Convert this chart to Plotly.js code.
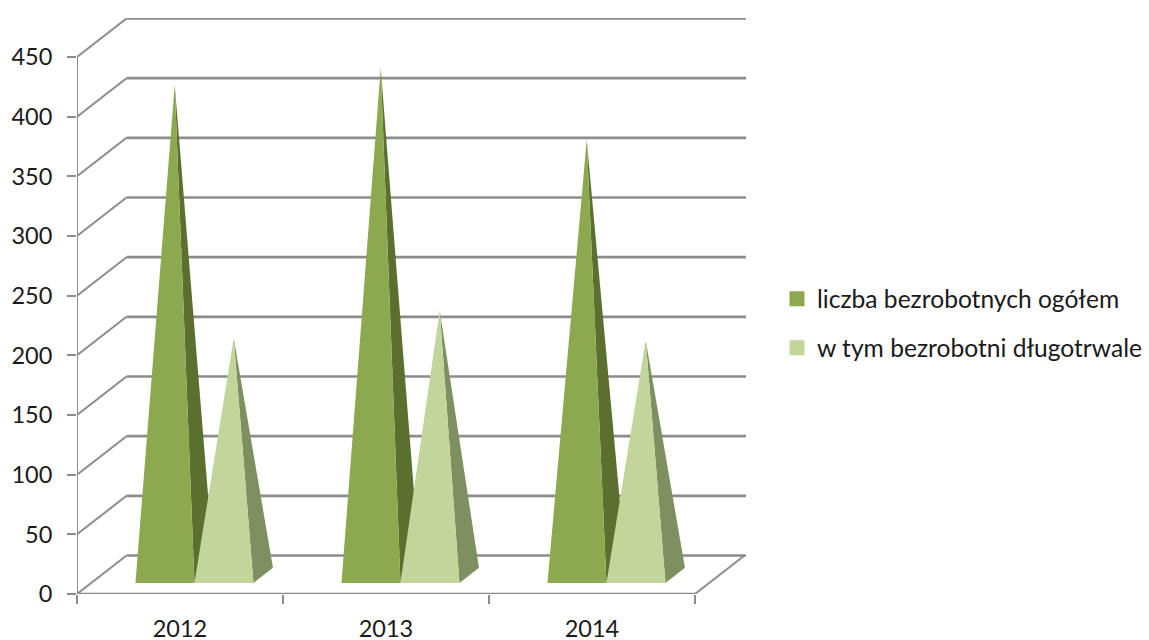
<!DOCTYPE html>
<html><head><meta charset="utf-8">
<script src="https://cdn.plot.ly/plotly-3.0.1.min.js"></script>
<style>html,body{margin:0;padding:0;background:#fff}</style></head>
<body><div id="chart" style="width:1149px;height:640px"></div>
<script>
const categories = ['2012','2013','2014'];
const seriesNames = ['liczba bezrobotnych ogółem','w tym bezrobotni długotrwale'];
const totalUnemployed = [411,425,365];
const longTermUnemployed = [199,222,197];
const yTicks = [0,50,100,150,200,250,300,350,400,450];

const FONT = 'Lato, "Open Sans", sans-serif';
const FS = 23.5;
const LEGEND_FS = 24.6;
const TEXT = '#1a1a1a';
const GRID = '#8c8c8c';
const frontColors = ['#8DA950','#C2D69B'];
const sideColors = ['#5B6F2F','#7E9060'];

const W = 1149;
const pxX = 206, pxY = 537/450;
const L = 77, R = 746, T = 18, B = 594;
const xMax = (R-L)/pxX, yMax = (B-T)/pxY;
const wallDx = 49.5/pxX, wallDy = 38.5/pxY;
const depthFront = 0.286, depthBack = 0.68, depthMid = 0.483;
const gapLeft = 44.3/pxX, baseW = 59/pxX;
const nCat = categories.length;
const xDomain = [L/W, R/W];

const traces = [];
// walls + floor
const hx=[],hy=[],dx=[],dy=[];
yTicks.forEach(v=>{
  hx.push(wallDx,xMax,null); hy.push(v+wallDy,v+wallDy,null);
  dx.push(0,wallDx,null); dy.push(v,v+wallDy,null);
});
hx.push(0,nCat,null); hy.push(0,0,null);
dx.push(nCat,wallDx+nCat,null); dy.push(0,wallDy,null);
dx.push(0,0,null); dy.push(0,yTicks[yTicks.length-1],null);
const base={type:'scatter',mode:'lines',showlegend:false,hoverinfo:'skip',cliponaxis:false};
traces.push({...base,x:dx,y:dy,line:{color:GRID,width:2}});
traces.push({...base,x:hx,y:hy,line:{color:GRID,width:2.6}});

function pt(x,d){return [x+d*wallDx,d*wallDy];}
[totalUnemployed,longTermUnemployed].forEach((vals,s)=>{
  vals.forEach((v,i)=>{
    const x0=i+gapLeft+s*baseW, x1=x0+baseW, cx=(x0+x1)/2;
    const a=pt(x0,depthFront), b=pt(x1,depthFront), c=pt(x1,depthBack), m=pt(cx,depthMid);
    traces.push({...base,x:[b[0],c[0],m[0],b[0]],y:[b[1],c[1],m[1]+v,b[1]],fill:'toself',
      fillcolor:sideColors[s],line:{width:0,color:sideColors[s]}});
    traces.push({...base,x:[a[0],b[0],m[0],a[0]],y:[a[1],b[1],m[1]+v,a[1]],fill:'toself',
      fillcolor:frontColors[s],line:{width:0,color:frontColors[s]}});
  });
  traces.push({type:'scatter',mode:'markers',xaxis:'x2',x:[null],y:[null],name:seriesNames[s],legendgroup:'s'+s,
    marker:{symbol:'square',size:15,color:frontColors[s]},showlegend:true,hoverinfo:'skip'});
});

const layout={
  width:W,height:640,autosize:false,
  paper_bgcolor:'#fff',plot_bgcolor:'#fff',
  margin:{l:0,r:0,t:T,b:640-B,pad:0},
  font:{family:FONT,size:FS,color:TEXT},
  xaxis:{domain:xDomain,range:[0,xMax],tickmode:'array',tickvals:categories.map((c,i)=>i+0.5),ticktext:categories,
    ticks:'',showgrid:false,zeroline:false,showline:false,ticklabelstandoff:18,tickfont:{family:FONT,size:FS,color:TEXT}},
  xaxis2:{domain:xDomain,overlaying:'x',range:[0,xMax],side:'bottom',anchor:'y',tickmode:'array',
    tickvals:Array.from({length:nCat+1},(_,i)=>i),showticklabels:false,ticks:'outside',ticklen:9,tickwidth:2.2,tickcolor:GRID,
    showgrid:false,zeroline:false,showline:false},
  yaxis:{range:[0,yMax],tickmode:'array',tickvals:yTicks,ticks:'outside',ticklen:9,tickwidth:2.2,tickcolor:GRID,
    showgrid:false,zeroline:false,showline:false,ticklabelstandoff:10,tickfont:{family:FONT,size:FS,color:TEXT}},
  legend:{x:782/W,xanchor:'left',y:0.47,yanchor:'middle',font:{family:FONT,size:LEGEND_FS,color:TEXT},
    bgcolor:'rgba(0,0,0,0)',itemclick:false,itemdoubleclick:false,tracegroupgap:14,itemwidth:30,indentation:-5},
  showlegend:true
};
Plotly.newPlot('chart',traces,layout,{displayModeBar:false,staticPlot:true});
</script></body></html>
